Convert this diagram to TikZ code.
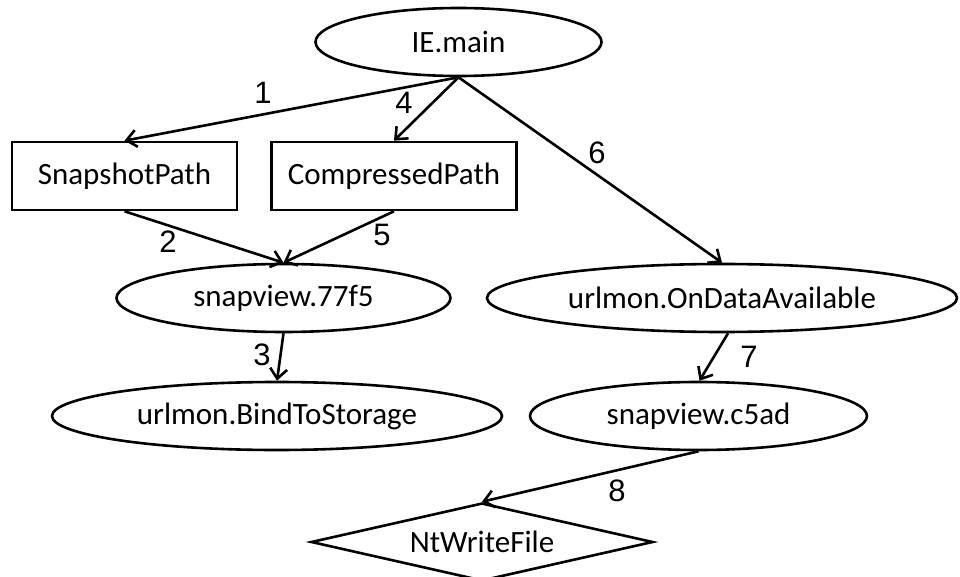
\documentclass[tikz,border=0pt]{standalone}
\usepackage{fontspec}
\setmainfont{Carlito}
\newfontfamily\numfont{Liberation Sans}
\usetikzlibrary{shapes.geometric,arrows.meta}
\begin{document}
\begin{tikzpicture}[x=1pt,y=-1pt,
  every node/.style={font=\fontsize{31}{36}\selectfont, inner sep=0pt},
  ell/.style={draw, line width=2.6pt, ellipse, minimum height=68pt},
  box/.style={draw, line width=2.6pt, rectangle, minimum height=68pt},
  dia/.style={draw, line width=2.6pt, diamond, aspect=4.38, minimum width=342pt, minimum height=78pt},
  edge/.style={line width=2.6pt, -{Straight Barb[length=10pt,width=17pt,line width=2.6pt]}},
  lbl/.style={font=\numfont\fontsize{31}{36}\selectfont}]
\useasboundingbox (0,0) rectangle (960,577);

\node[ell, minimum width=286pt] (ie) at (458.5,42) {\makebox[0pt]{IE.main}};
\node[box, minimum width=225pt] (snap) at (124.5,176) {SnapshotPath};
\node[box, minimum width=245pt] (comp) at (394,176) {CompressedPath};
\node[ell, minimum width=334pt] (sv) at (283.5,298) {\makebox[0pt]{snapview.77f5}};
\node[ell, minimum width=470pt] (oda) at (722,298) {\makebox[0pt]{urlmon.OnDataAvailable}};
\node[ell, minimum width=450pt] (bts) at (277,416) {\makebox[0pt]{urlmon.BindToStorage}};
\node[ell, minimum width=337pt] (c5) at (698.5,416) {\makebox[0pt]{snapview.c5ad}};
\node[dia] (nt) at (482,542) {\makebox[0pt]{NtWriteFile}};

\draw[edge] (ie.south) -- (snap.north);
\draw[edge] (ie.south) -- (comp.north);
\draw[edge] (ie.south) -- (oda.north);
\draw[edge] (snap.south) -- (sv.north);
\draw[edge] (comp.south) -- (sv.north);
\draw[edge] (sv.south) -- (bts.north);
\draw[edge] ([xshift=6pt]oda.south) -- ([xshift=1pt]c5.north);
\draw[edge] (c5.south) -- (nt.north);

\node[lbl] (l1) at (263,93) {1};
\node[lbl] (l4) at (404,103) {4};
\node[lbl] (l6) at (597,153) {6};
\node[lbl] (l2) at (168,242) {2};
\node[lbl] (l5) at (382,235) {5};
\node[lbl] (l3) at (262,355) {3};
\node[lbl] (l7) at (749,357) {7};
\node[lbl] (l8) at (617,491) {8};
\end{tikzpicture}
\end{document}
